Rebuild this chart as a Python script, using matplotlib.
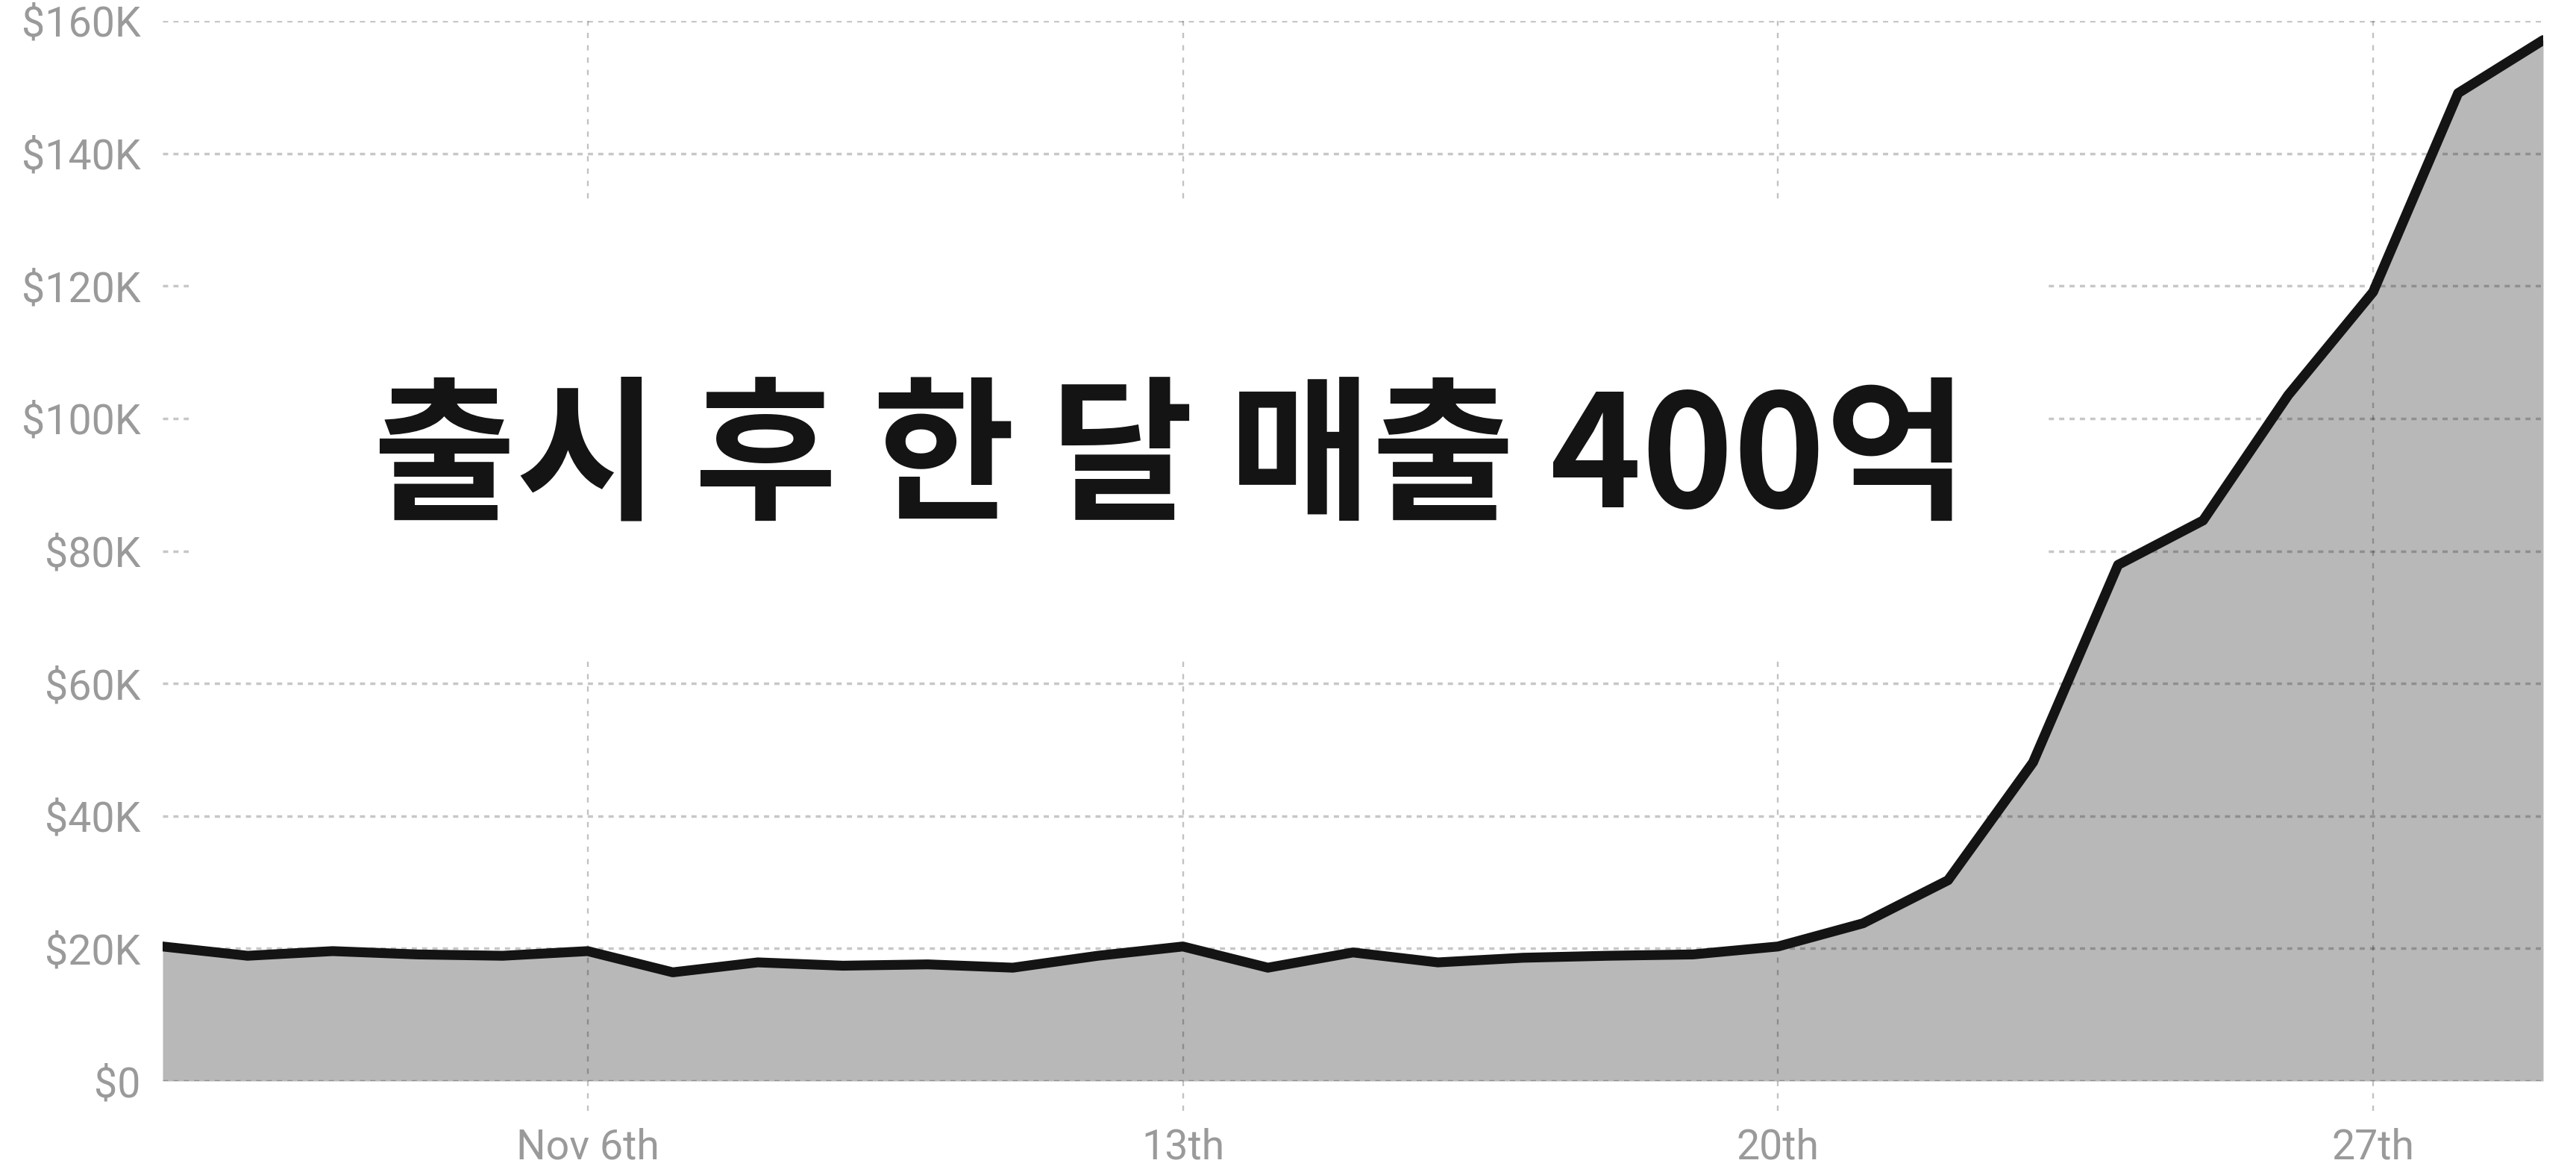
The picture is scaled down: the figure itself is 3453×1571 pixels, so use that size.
import matplotlib
matplotlib.use("Agg")
import numpy as np
from matplotlib import pyplot as plt
from matplotlib.patches import Rectangle

# daily revenue in November, thousands of dollars
days = list(range(1, 30))
revenue_k = [20.3, 18.9, 19.6, 19.1, 18.9, 19.6, 16.4, 17.9, 17.4, 17.6,
             17.1, 18.9, 20.3, 17.1, 19.4, 17.9, 18.6, 18.9, 19.1, 20.3,
             23.8, 30.3, 48.1, 77.9, 84.6, 103.5, 119.1, 149.1, 157.1]

tick_days = [6, 13, 20, 27]
tick_labels = ["Nov 6th", "13th", "20th", "27th"]
y_ticks_k = [0, 20, 40, 60, 80, 100, 120, 140, 160]
y_labels = ["$0", "$20K", "$40K", "$60K", "$80K", "$100K", "$120K", "$140K", "$160K"]
title = "출시 후 한 달 매출 400억"

plt.rcParams['font.family'] = ['Roboto', 'DejaVu Sans']

fig = plt.figure(figsize=(34.53, 15.71), dpi=100)
ax = fig.add_axes([218 / 3453, 1 - 1449 / 1571, 3191 / 3453, 1421 / 1571])

x = np.array(days)
y = np.array(revenue_k) * 1000

ax.fill_between(x, 0, y, color='#b8b8b8', linewidth=0, zorder=1)
ax.plot(x, y, color='#141414', linewidth=9.5, solid_capstyle='round',
        solid_joinstyle='round', zorder=3)

ax.set_xlim(days[0], days[-1])
ax.set_ylim(0, 160000)

# horizontal grid, dotted and translucent so it darkens over the fill
for v in y_ticks_k:
    ax.axhline(v * 1000, color='black', alpha=0.22, linewidth=2.5,
               linestyle=(0, (2, 2)), zorder=1.5)
# vertical guides run a little past the bottom edge
for d in tick_days:
    ax.axvline(d, ymin=-0.028, ymax=1, color='black', alpha=0.24, linewidth=1.7,
               linestyle=(0, (3, 4)), zorder=1.5, clip_on=False)

ax.set_xticks(tick_days)
ax.set_xticklabels(tick_labels)
ax.set_yticks([v * 1000 for v in y_ticks_k])
ax.set_yticklabels(y_labels)
ax.tick_params(axis='both', length=0, labelcolor='#9a9a9a', labelsize=40)
ax.tick_params(axis='y', pad=21)
ax.tick_params(axis='x', pad=45)
for s in ax.spines.values():
    s.set_visible(False)

# white panel behind the headline
ax.add_patch(Rectangle((0.011, 0.400), 0.780, 0.426, transform=ax.transAxes,
                       facecolor='white', edgecolor='none', zorder=2,
                       clip_on=False))
fig.text(1569 / 3453, 1 - 618 / 1571, title, ha='center', va='center',
         fontsize=150, fontweight='bold', color='#141414',
         family=['Noto Sans CJK KR', 'DejaVu Sans'], zorder=5)

fig.savefig("out.png", dpi=100, facecolor='white')
